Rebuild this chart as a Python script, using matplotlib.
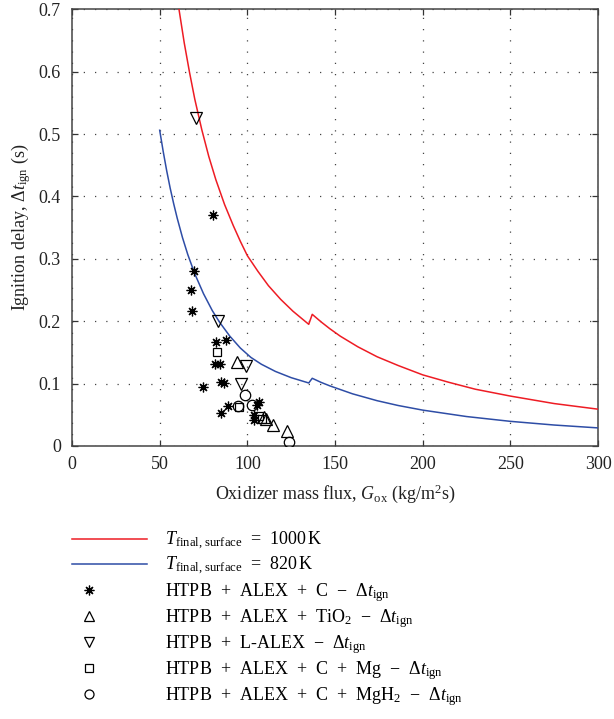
import matplotlib
matplotlib.use("Agg")
import matplotlib.pyplot as plt
from matplotlib.ticker import FuncFormatter
from matplotlib.lines import Line2D

plt.rcParams['font.family'] = ['Liberation Serif', 'DejaVu Serif']
plt.rcParams['mathtext.fontset'] = 'custom'
plt.rcParams['mathtext.rm'] = 'Liberation Serif'
plt.rcParams['mathtext.it'] = 'Liberation Serif:italic'
plt.rcParams['mathtext.bf'] = 'Liberation Serif:bold'

# model curves (jump near G_ox = 136)
red_x = [61, 64, 67, 70, 74, 78, 82, 87, 92, 96, 100, 106, 112, 119, 126, 135,
         137, 142, 147, 153, 163, 174, 186, 200, 215, 230, 250, 275, 300]
red_y = [0.700, 0.646, 0.599, 0.556, 0.507, 0.464, 0.427, 0.387, 0.353, 0.328,
         0.305, 0.280, 0.257, 0.235, 0.216, 0.195,
         0.211, 0.199, 0.188, 0.176, 0.159, 0.143, 0.129, 0.114, 0.102, 0.091,
         0.080, 0.068, 0.059]
blue_x = [50, 52, 54, 56, 58, 60, 63, 66, 70, 75, 80, 84, 90, 96, 102, 108, 116,
          125, 135, 137, 142, 147, 160, 174, 186, 200, 225, 250, 275, 300]
blue_y = [0.506, 0.472, 0.441, 0.413, 0.388, 0.365, 0.334, 0.307, 0.276, 0.244,
          0.217, 0.199, 0.176, 0.157, 0.142, 0.131, 0.1195, 0.1095, 0.101,
          0.1085, 0.102, 0.0964, 0.0836, 0.0726, 0.0649, 0.0575, 0.0472,
          0.0395, 0.0336, 0.029]

# measurements
alex_c_x = [69.3, 67.8, 68.6, 80.2, 81.9, 87.8, 81.5, 84.2, 85.0, 86.9, 74.7,
            89.0, 85.1, 106.4, 105.3, 103.6, 103.6]
alex_c_y = [0.281, 0.250, 0.216, 0.370, 0.167, 0.170, 0.131, 0.131, 0.102,
            0.101, 0.094, 0.064, 0.053, 0.070, 0.066, 0.049, 0.041]
tio2_x = [94.1, 109.5, 110.5, 114.9, 122.5]
tio2_y = [0.134, 0.046, 0.043, 0.033, 0.024]
lalex_x = [70.9, 83.4, 99.2, 96.4]
lalex_y = [0.525, 0.200, 0.128, 0.099]
mg_x = [82.7, 95.1, 106.4, 108.5]
mg_y = [0.150, 0.063, 0.048, 0.044]
mgh2_x = [98.6, 94.5, 102.7, 123.5]
mgh2_y = [0.081, 0.064, 0.066, 0.007]

red = '#ee1c24'
blue = '#2e4da6'

fig = plt.figure(figsize=(6.14, 7.19), dpi=100)
ax = fig.add_axes([0.1173, 0.3797, 0.8567, 0.6075])

ax.plot(red_x, red_y, color=red, lw=1.1, zorder=3)
ax.plot(blue_x, blue_y, color=blue, lw=1.1, zorder=3)

mk = dict(linestyle='none', mfc='none', mec='black', mew=0.9, zorder=4)
ast = (8, 2, 0)
ax.plot(alex_c_x, alex_c_y, marker=ast, ms=7, **mk)
ax.plot(tio2_x, tio2_y, marker='^', ms=8, **mk)
ax.plot(lalex_x, lalex_y, marker='v', ms=8, **mk)
ax.plot(mg_x, mg_y, marker='s', ms=6, **mk)
ax.plot(mgh2_x, mgh2_y, marker='o', ms=7.5, **mk)

ax.set_xlim(0, 300)
ax.set_ylim(0, 0.7)
ax.set_xticks([0, 50, 100, 150, 200, 250, 300])
ax.set_yticks([0, 0.1, 0.2, 0.3, 0.4, 0.5, 0.6, 0.7])
ax.xaxis.set_major_formatter(FuncFormatter(lambda v, p: '%g' % v))
ax.yaxis.set_major_formatter(FuncFormatter(lambda v, p: '%g' % v))
ax.tick_params(direction='in', length=4, width=0.9, colors='#333333',
               labelcolor='#222222', labelsize=13, top=True, right=True)
ax.tick_params(axis='x', pad=7)
ax.tick_params(axis='y', pad=8)
ax.grid(True, color='#444444', linestyle=(0, (1, 8)), linewidth=0.9)
for s in ax.spines.values():
    s.set_color('#444444')
    s.set_linewidth(1.1)

ax.set_xlabel(r'Oxidizer mass flux, $G_{\mathrm{ox}}$ (kg/m$^2$s)',
              fontsize=13, color='#222222', labelpad=7)
ax.set_ylabel(r'Ignition delay, $\Delta t_{\mathrm{ign}}$ (s)',
              fontsize=13, color='#222222', labelpad=4)

line_handles = [Line2D([], [], color=red, lw=1.1),
                Line2D([], [], color=blue, lw=1.1)]
line_labels = [r'$T_{\mathrm{final,\,surface}}$  =  1000$\,$K',
               r'$T_{\mathrm{final,\,surface}}$  =  820$\,$K']
leg1 = fig.legend(line_handles, line_labels, loc='upper left',
                  bbox_to_anchor=(0.1173, 0.263), frameon=False, fontsize=13,
                  handlelength=4.15, handletextpad=1.0, borderpad=0,
                  borderaxespad=0, labelspacing=0.18)

mk_handles = [Line2D([], [], marker=ast, ms=7, **mk),
              Line2D([], [], marker='^', ms=7, **mk),
              Line2D([], [], marker='v', ms=7, **mk),
              Line2D([], [], marker='s', ms=5.5, **mk),
              Line2D([], [], marker='o', ms=6.5, **mk)]
mk_labels = [r'HTPB  +  ALEX  +  C  $-$  $\Delta t_{\mathrm{ign}}$',
             r'HTPB  +  ALEX  +  TiO$_2$  $-$  $\Delta t_{\mathrm{ign}}$',
             r'HTPB  +  L-ALEX  $-$  $\Delta t_{\mathrm{ign}}$',
             r'HTPB  +  ALEX  +  C  +  Mg  $-$  $\Delta t_{\mathrm{ign}}$',
             r'HTPB  +  ALEX  +  C  +  MgH$_2$  $-$  $\Delta t_{\mathrm{ign}}$']
leg2 = fig.legend(mk_handles, mk_labels, loc='upper left',
                  bbox_to_anchor=(0.1303, 0.192), frameon=False, fontsize=13,
                  handlelength=1.0, handletextpad=3.7, borderpad=0,
                  borderaxespad=0, labelspacing=0.18)

fig.savefig('out.png', dpi=100)
